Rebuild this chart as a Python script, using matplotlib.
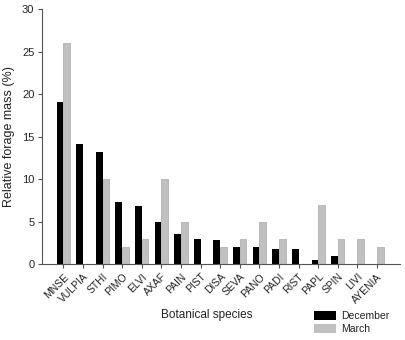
import numpy as np
import matplotlib
matplotlib.use('Agg')
import matplotlib.pyplot as plt
from matplotlib.patches import Patch

species = ['MNSE', 'VULPIA', 'STHI', 'PIMO', 'ELVI', 'AXAF', 'PAIN', 'PIST',
           'DISA', 'SEVA', 'PANO', 'PADI', 'RIST', 'PAPL', 'SPIN', 'LIVI',
           'AYENIA']
december = [19.1, 14.1, 13.15, 7.25, 6.85, 4.95, 3.5, 2.9,
             2.8, 2.0, 2.0, 1.75, 1.75, 0.45, 0.9, 0, 0]
march = [26.0, 0, 10.0, 2.0, 3.0, 10.0, 5.0, 0,
         2.0, 3.0, 5.0, 3.0, 0, 7.0, 3.0, 3.0, 2.0]

plt.rcParams['font.family'] = ['Liberation Sans', 'DejaVu Sans']
txt = '#222222'

fig = plt.figure(figsize=(4.06, 3.40), dpi=100)
ax = fig.add_axes([0.1034, 0.2235, 0.8816, 0.749])

x = np.arange(len(species))
w = 0.34
ax.bar(x - w/2, december, w, color='black', edgecolor='none')
ax.bar(x + w/2, march, w, color='#c0c0c0', edgecolor='#a8a8a8', linewidth=0.5)

ax.set_xlim(-1.09, len(species) - 1 + 1.17)
ax.set_ylim(0, 30)
ax.set_yticks([0, 5, 10, 15, 20, 25, 30])
ax.set_xticks(x)
ax.set_xticklabels(species, rotation=45, ha='right', rotation_mode='anchor',
                   fontsize=7.5, color=txt)
for t in ax.get_yticklabels():
    t.set_fontsize(8)
    t.set_color(txt)

for s in ['top', 'right']:
    ax.spines[s].set_visible(False)
for s in ['left', 'bottom']:
    ax.spines[s].set_color('#555555')
    ax.spines[s].set_linewidth(0.8)
ax.tick_params(length=3, width=0.8, color='#555555', pad=2.5)

ax.set_ylabel('Relative forage mass (%)', fontsize=9, color=txt, labelpad=5)
fig.text(0.51, 1 - 318 / 340, 'Botanical species', fontsize=8.5, color=txt,
         ha='center')

handles = [Patch(facecolor='black', edgecolor='none'),
           Patch(facecolor='#c0c0c0', edgecolor='none')]
fig.legend(handles, ['December', 'March'], loc='upper left',
           bbox_to_anchor=(308 / 406, 1 - 305 / 340), frameon=False,
           fontsize=7.5, handlelength=2.1, handleheight=0.9, labelspacing=0.3,
           handletextpad=0.5, borderpad=0.1, labelcolor=txt)

fig.savefig('out.png', dpi=100)
